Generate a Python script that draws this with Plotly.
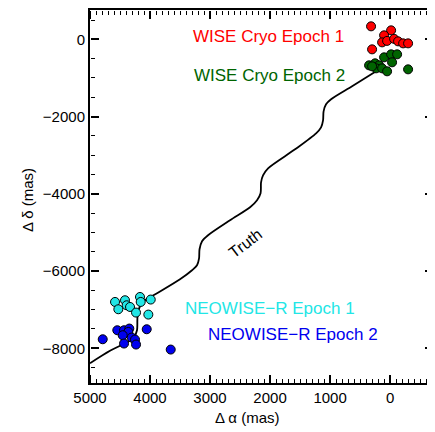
import plotly.graph_objects as go

# Truth track (Δα, Δδ in mas)
truth_ra = [5000, 4667, 4367, 4267, 4217, 4208, 4167, 4083, 3883, 3500, 3300, 3217, 3183, 3175,
            3133, 3033, 2667, 2333, 2217, 2158, 2150, 2117, 2033, 1583, 1233, 1150, 1117, 1108,
            1067, 983, 633, 233]
truth_dec = [-8388, -8065, -7832, -7715, -7534, -7172, -6913, -6757, -6576, -6214, -5981, -5851,
             -5670, -5437, -5230, -5074, -4686, -4350, -4168, -3987, -3702, -3521, -3340, -2848,
             -2434, -2278, -2097, -1864, -1683, -1553, -1217, -828]

wise1_ra = [317, -17, 100, 133, 50, -67, -133, -217, -300, 300]
wise1_dec = [337, 233, 104, -78, -40, 13, -52, -104, -104, -259]

wise2_ra = [350, 250, 183, 100, -17, -117, -33, 233, 133, 50, -300, 300]
wise2_dec = [-673, -621, -673, -466, -388, -388, -595, -751, -751, -828, -777, -699]

neo1_ra = [4583, 4417, 4389, 4528, 4333, 4167, 4155, 3988, 4233, 4028]
neo1_dec = [-6801, -6757, -6887, -6990, -6931, -6672, -6801, -6739, -7076, -7128]

neo2_ra = [4788, 4545, 4433, 4345, 4362, 4455, 4305, 4250, 4433, 4233, 4055, 3655]
neo2_dec = [-7767, -7534, -7534, -7490, -7578, -7663, -7723, -7775, -7878, -7904, -7508, -8034]

labels = ["WISE Cryo Epoch 1", "WISE Cryo Epoch 2", "NEOWISE\u2212R Epoch 1", "NEOWISE\u2212R Epoch 2"]
colors = ["#ff0000", "#006400", "#22e6e6", "#0000ee"]

X_RANGE = [5000, -715]
Y_RANGE = [-8900, 760]
X_MAJOR, X_MINOR = 1000, 100
Y_MAJOR, Y_MINOR = 2000, 500

FONT = "Liberation Sans, Arial, Helvetica, sans-serif"

fig = go.Figure()
fig.add_trace(go.Scatter(x=truth_ra, y=truth_dec, mode="lines",
                         line=dict(color="black", width=1.8, shape="spline", smoothing=0.8),
                         showlegend=False, hoverinfo="skip"))
for xs, ys, c in [(wise1_ra, wise1_dec, colors[0]), (wise2_ra, wise2_dec, colors[1]),
                  (neo1_ra, neo1_dec, colors[2]), (neo2_ra, neo2_dec, colors[3])]:
    fig.add_trace(go.Scatter(x=xs, y=ys, mode="markers",
                             marker=dict(size=9, color=c, line=dict(color="black", width=1)),
                             showlegend=False))
# empty traces that register the tick-only overlay axes
for k in (2, 3, 4, 5):
    fig.add_trace(go.Scatter(x=[None], y=[None], xaxis=f"x{k}", yaxis=f"y{k}",
                             showlegend=False, hoverinfo="skip"))

ann = [
    dict(text=labels[0], x=733, y=78, color=colors[0], xanchor="right"),
    dict(text=labels[1], x=717, y=-932, color=colors[1], xanchor="right"),
    dict(text=labels[2], x=3450, y=-6964, color=colors[2], xanchor="left"),
    dict(text=labels[3], x=3067, y=-7638, color=colors[3], xanchor="left"),
]
for a in ann:
    fig.add_annotation(x=a["x"], y=a["y"], text=a["text"], showarrow=False, xanchor=a["xanchor"],
                       font=dict(color=a["color"], size=17, family=FONT))
fig.add_annotation(x=2417, y=-5282, text="Truth", showarrow=False, textangle=-37,
                   font=dict(color="black", size=16, family=FONT))

fig.add_annotation(x=0.458, y=-0.092, xref="paper", yref="paper", text="\u0394 \u03b1 (mas)",
                   showarrow=False, xanchor="center", yanchor="middle",
                   font=dict(size=15, color="black", family=FONT))
fig.add_annotation(x=-0.184, y=0.49, xref="paper", yref="paper", text="\u0394 \u03b4 (mas)",
                   showarrow=False, xanchor="center", yanchor="middle", textangle=-90,
                   font=dict(size=15, color="black", family=FONT))


def tick_axis(rng, dtick, side, overlay, pos, length, width):
    # axis placed on the opposite edge with outward ticks -> ticks point into the plot
    return dict(range=rng, dtick=dtick, tick0=0, tickmode="linear", overlaying=overlay,
                anchor="free", position=pos, side=side, ticks="outside", ticklen=length,
                tickwidth=width, tickcolor="#000000", showticklabels=False, showgrid=False,
                zeroline=False, showline=False, fixedrange=True)


fig.update_layout(
    xaxis=dict(range=X_RANGE, dtick=X_MAJOR, tick0=0, tickmode="linear", showline=True, linewidth=2,
               linecolor="black", mirror=True, ticks="", showgrid=False, zeroline=False,
               tickfont=dict(size=15, color="black", family=FONT)),
    yaxis=dict(range=Y_RANGE, dtick=Y_MAJOR, tick0=0, tickmode="linear", showline=True, linewidth=2,
               linecolor="black", mirror=True, ticks="", showgrid=False, zeroline=False,
               tickfont=dict(size=15, color="black", family=FONT)),
    xaxis2=tick_axis(X_RANGE, X_MINOR, "top", "x", 0, 4, 1),      # bottom edge, minor
    xaxis3=tick_axis(X_RANGE, X_MAJOR, "top", "x", 0, 8, 1.5),    # bottom edge, major
    xaxis4=tick_axis(X_RANGE, X_MINOR, "bottom", "x", 1, 4, 1),   # top edge, minor
    xaxis5=tick_axis(X_RANGE, X_MAJOR, "bottom", "x", 1, 8, 1.5), # top edge, major
    yaxis2=tick_axis(Y_RANGE, Y_MINOR, "right", "y", 0, 4, 1),    # left edge, minor
    yaxis3=tick_axis(Y_RANGE, Y_MAJOR, "right", "y", 0, 8, 1.5),  # left edge, major
    yaxis4=tick_axis(Y_RANGE, Y_MINOR, "left", "y", 1, 4, 1),     # right edge, minor
    yaxis5=tick_axis(Y_RANGE, Y_MAJOR, "left", "y", 1, 8, 1.5),   # right edge, major
)
fig.update_layout(width=427, height=424, margin=dict(l=82, r=2, t=2, b=49, autoexpand=False),
                  plot_bgcolor="white", paper_bgcolor="white", showlegend=False)
fig.write_html("out.html")
